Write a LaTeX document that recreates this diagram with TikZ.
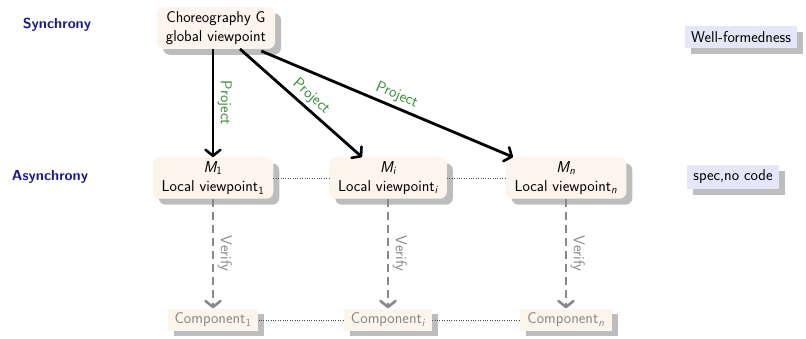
\documentclass[tikz,border=0pt]{standalone}
\usetikzlibrary{shadows,arrows.meta}
\definecolor{cream}{HTML}{FDF5EC}
\definecolor{lavender}{HTML}{E6E6FA}
\definecolor{navy}{HTML}{1A1A8C}
\definecolor{projgreen}{HTML}{3C8C3C}
\definecolor{shadowgray}{HTML}{BDBDBD}
\definecolor{verifygray}{HTML}{888888}
\begin{document}
\begin{tikzpicture}[x=1pt,y=-1pt,
  font=\sffamily\fontsize{15.7}{19.5}\selectfont,
  viewbox/.style={fill=cream, rounded corners=7pt, align=center,
    inner xsep=9pt, inner ysep=4pt,
    drop shadow={shadow xshift=6pt, shadow yshift=-6pt, fill=shadowgray, opacity=1}},
  compbox/.style={fill=cream, text=verifygray, inner xsep=7pt, inner ysep=4.5pt,
    drop shadow={shadow xshift=6pt, shadow yshift=-5pt, fill=shadowgray, opacity=1}},
  notebox/.style={fill=lavender, inner xsep=6pt, inner ysep=5pt,
    drop shadow={shadow xshift=6pt, shadow yshift=-6pt, fill=shadowgray, opacity=1}},
  level/.style={text=navy, font=\sffamily\bfseries\fontsize{14.5}{17}\selectfont},
  tip/.style={-{Straight Barb[length=6pt,width=15pt,line width=2.6pt,round]}},
  project/.style={tip, line width=2.8pt, black},
  verify/.style={tip, line width=2.8pt, verifygray, dash pattern=on 8pt off 5pt},
  plabel/.style={text=projgreen, sloped},
  vlabel/.style={text=verifygray, sloped},
  link/.style={dotted, thin, black!70}
]
\useasboundingbox (0,0) rectangle (806,338);

% level names
\node[level] (sync) at (57,25) {Synchrony};
\node[level] (async) at (50,177) {Asynchrony};

% global choreography
\node[viewbox] (chor) at (216,28) {Choreography G\\global viewpoint};

% local viewpoints
\node[viewbox] (m1) at (213,178) {{\itshape M}\textsubscript{1}\\Local viewpoint\textsubscript{1}};
\node[viewbox] (mi) at (388,178) {{\itshape M\textsubscript{i}}\\Local viewpoint\textsubscript{\itshape i}};
\node[viewbox] (mn) at (566,178) {{\itshape M\textsubscript{n}}\\Local viewpoint\textsubscript{\itshape n}};

% components
\node[compbox] (c1) at (213,320) {Component\textsubscript{1}};
\node[compbox] (ci) at (388,320) {Component\textsubscript{\itshape i}};
\node[compbox] (cn) at (566,320) {Component\textsubscript{\itshape n}};

% side notes
\node[notebox] (wf) at (741,37) {Well-formedness};
\node[notebox] (spec) at (733,177) {spec,no code};

% projections
\draw[project] (chor.south -| m1.north) -- node[plabel, above, pos=0.5] {Project} (m1.north);
\draw[project] ([xshift=24pt]chor.south) -- node[plabel, above, pos=0.52] {Project} ([xshift=-26pt]mi.north);
\draw[project] (chor.south east) ++(-14pt,-2pt) coordinate (ps) (ps) -- node[plabel, above, pos=0.52] {Project} ([xshift=-53pt]mn.north);

% verification
\draw[verify] (m1.south) -- node[vlabel, above, pos=0.5] {Verify} (c1.north);
\draw[verify] (mi.south) -- node[vlabel, above, pos=0.5] {Verify} (ci.north);
\draw[verify] (mn.south) -- node[vlabel, above, pos=0.5] {Verify} (cn.north);

% links between siblings
\draw[link] (m1.east) -- (mi.west);
\draw[link] (mi.east) -- (mn.west);
\draw[link] (c1.east) -- (ci.west);
\draw[link] (ci.east) -- (cn.west);
\end{tikzpicture}
\end{document}
